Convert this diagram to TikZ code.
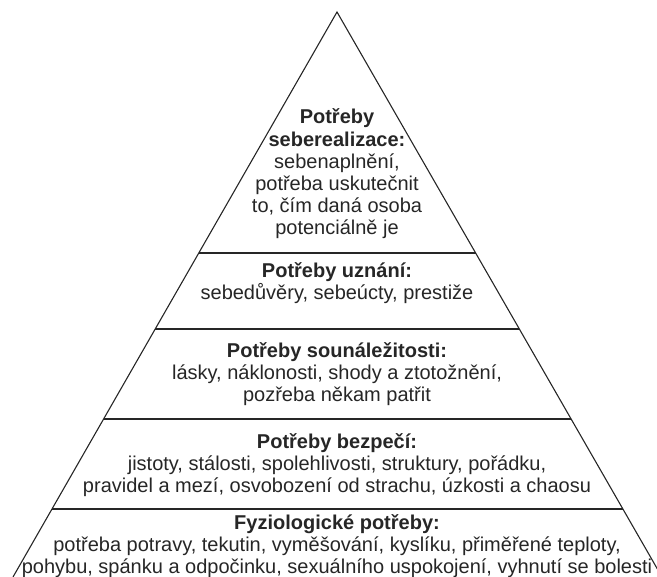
\documentclass[tikz,border=0pt]{standalone}
\usepackage{fontspec}
\setmainfont{Liberation Sans}
\usepackage{tikz}

\begin{document}
\begin{tikzpicture}[x=1pt, y=-1pt,
	level/.style={align=center, text=black!85, inner sep=0pt, font=\fontsize{20}{22.2}\selectfont},
	edge/.style={black!85, line width=1.1pt}]
	\useasboundingbox (0,0) rectangle (657,577);
	\clip (0,0) rectangle (657,577);

	\coordinate (apex) at (337,12);
	\coordinate (footl) at (13,577);
	\coordinate (footr) at (662,577);
	\draw[edge] (footl) -- (apex) -- (footr);
	\foreach \y in {253,329,419,509}
		\draw[edge] ({337-0.573*(\y-12)},\y) -- ({337+0.575*(\y-12)},\y);

	\node[level] (selfreal) at (337,174) {\textbf{Potřeby}\\\textbf{seberealizace:}\\sebenaplnění,\\potřeba uskutečnit\\to, čím daná osoba\\potenciálně je};
	\node[level] (esteem) at (337,283) {\textbf{Potřeby uznání:}\\sebedůvěry, sebeúcty, prestiže};
	\node[level] (belong) at (337,374) {\textbf{Potřeby sounáležitosti:}\\lásky, náklonosti, shody a ztotožnění,\\pozřeba někam patřit};
	\node[level] (safety) at (337,465) {\textbf{Potřeby bezpečí:}\\jistoty, stálosti, spolehlivosti, struktury, pořádku,\\pravidel a mezí, osvobození od strachu, úzkosti a chaosu};
	\node[level] (physio) at (337,546) {\textbf{Fyziologické potřeby:}\\potřeba potravy, tekutin, vyměšování, kyslíku, přiměřené teploty,\\pohybu, spánku a odpočinku, sexuálního uspokojení, vyhnutí se bolesti};
\end{tikzpicture}
\end{document}
